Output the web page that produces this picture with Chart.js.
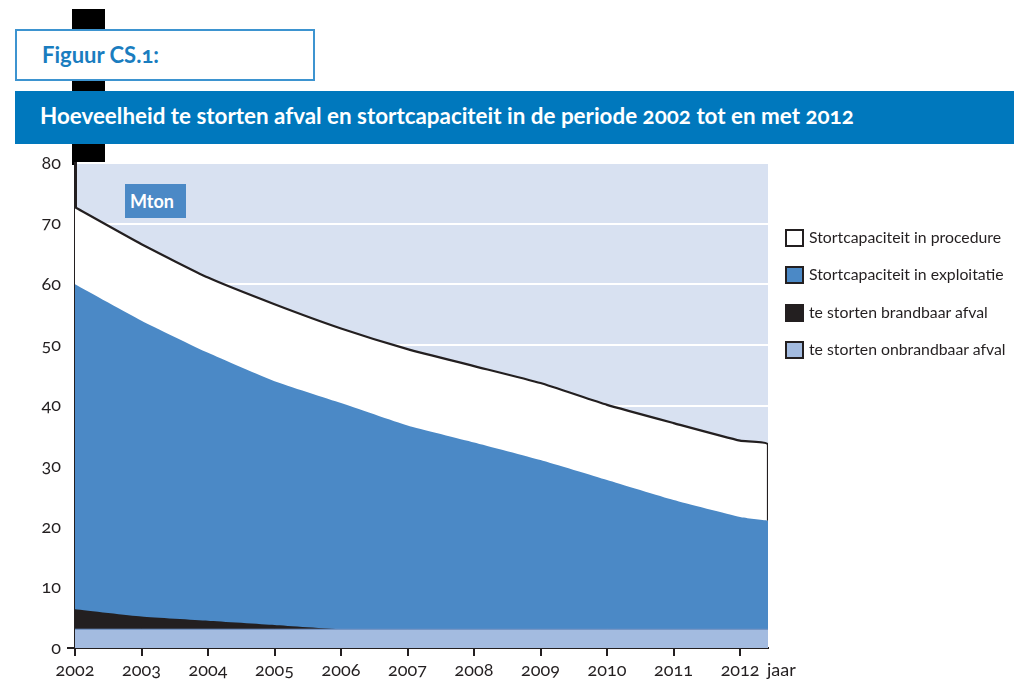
<!DOCTYPE html>
<html>
<head>
<meta charset="utf-8">
<script src="https://cdn.jsdelivr.net/npm/chart.js@4.4.1/dist/chart.umd.min.js"></script>
<style>
  html, body { margin: 0; padding: 0; background: #ffffff; }
  body { width: 1014px; height: 683px; position: relative; overflow: hidden; font-family: Lato, "Open Sans", sans-serif; font-variant-numeric: oldstyle-nums; }
  #deco { position: absolute; left: 72px; top: 9px; width: 33px; height: 156px; background: #000; z-index: 0; }
  #figbox { position: absolute; left: 15px; top: 29px; width: 296px; height: 48px; border: 2px solid #3d94d0; background: #fff; z-index: 2; }
  #figbox span { position: absolute; left: 25px; top: 10px; font-weight: 700; font-size: 22px; color: #1a7dbf; }
  #titlebar { position: absolute; left: 15px; top: 91px; width: 999px; height: 53px; background: #0078bd; z-index: 2; }
  #titlebar span { position: absolute; left: 25px; top: 11px; font-weight: 700; font-size: 22.4px; color: #fff; white-space: nowrap; }
  #chartwrap { position: absolute; left: 0; top: 0; width: 1014px; height: 683px; z-index: 1; }
  #mton { position: absolute; left: 125px; top: 184px; width: 61px; height: 34px; background: #4b89c6; z-index: 3; color: #fff; font-weight: 700; font-size: 18px; line-height: 34px; text-indent: 5px; }
  #legend { position: absolute; left: 785px; top: 229px; z-index: 3; }
  .li { position: absolute; left: 0; height: 18px; white-space: nowrap; }
  .sw { position: absolute; left: 0; top: 0; width: 15px; height: 14px; border: 2px solid #231f20; }
  .lt { position: absolute; left: 24px; top: -2px; font-size: 15.8px; color: #231f20; }
</style>
</head>
<body>
<div id="deco"></div>
<div id="figbox"><span>Figuur CS.1:</span></div>
<div id="titlebar"><span>Hoeveelheid te storten afval en stortcapaciteit in de periode 2002 tot en met 2012</span></div>
<div id="chartwrap"><canvas id="c" width="1014" height="683"></canvas></div>
<div id="mton">Mton</div>
<div id="legend"></div>
<script>
// ---- data (Mton, cumulative top of each band) ----
const years = [2002, 2003, 2004, 2005, 2006, 2007, 2008, 2009, 2010, 2011, 2012];
const periodEnd = 2012.42;                       // the areas run on a little past 2012
const xPoints = years.concat([periodEnd]);
const xTickLabels = [2002, 2003, 2004, 2005, 2006, 2007, 2008, 2009, 2010, 2011, 2012];
const yTickValues = [0, 10, 20, 30, 40, 50, 60, 70, 80];

const procedureTop   = [72.7, 66.6, 61.1, 56.7, 52.7, 49.3, 46.5, 43.7, 40.1, 37.1, 34.2, 33.6];
const exploitatieTop = [60.0, 54.0, 48.7, 44.0, 40.4, 36.7, 33.9, 31.0, 27.7, 24.4, 21.6, 21.0];
const brandbaarTop   = [6.4, 5.2, 4.5, 3.8, 3.1, 3.1, 3.1, 3.1, 3.1, 3.1, 3.1, 3.1];
const onbrandbaarTop = [3.1, 3.1, 3.1, 3.1, 3.1, 3.1, 3.1, 3.1, 3.1, 3.1, 3.1, 3.1];

const seriesNames = ['Stortcapaciteit in procedure', 'Stortcapaciteit in exploitatie', 'te storten brandbaar afval', 'te storten onbrandbaar afval'];
const seriesColors = ['#ffffff', '#4b89c6', '#231f20', '#a3bbe0'];

const INK = '#231f20';
const FONT = 'Lato, "Open Sans", sans-serif';

function pts(vals) { return vals.map((v, i) => ({ x: xPoints[i], y: v })); }
// procedure band: closed at the right edge down to the exploitatie band
const procPts = pts(procedureTop).concat([{ x: periodEnd, y: exploitatieTop[exploitatieTop.length - 1] }]);

// legend (HTML)
const leg = document.getElementById('legend');
seriesNames.forEach((n, i) => {
  const d = document.createElement('div');
  d.className = 'li';
  d.style.top = (i * 37.4) + 'px';
  d.innerHTML = '<div class="sw" style="background:' + seriesColors[i] + '"></div><div class="lt">' + n + '</div>';
  leg.appendChild(d);
});

const bgPlugin = {
  id: 'bg',
  beforeDraw(chart) {
    const { ctx, chartArea: a } = chart;
    ctx.save();
    ctx.fillStyle = '#d8e1f1';
    ctx.fillRect(a.left, a.top, a.right - a.left, a.bottom - a.top);
    ctx.restore();
  },
  afterDraw(chart) {
    const { ctx, chartArea: a } = chart;
    ctx.save();
    ctx.fillStyle = INK;
    ctx.font = '18px ' + FONT;
    ctx.textAlign = 'left';
    ctx.textBaseline = 'middle';
    ctx.fillText('jaar', a.right - 1, a.bottom + 22);
    ctx.restore();
  }
};

new Chart(document.getElementById('c'), {
  type: 'line',
  data: {
    datasets: [
      { label: seriesNames[3], data: pts(onbrandbaarTop), backgroundColor: seriesColors[3], borderColor: '#6f94c8', borderWidth: 1, fill: 'origin', pointRadius: 0, tension: 0 },
      { label: seriesNames[2], data: pts(brandbaarTop), backgroundColor: seriesColors[2], borderColor: seriesColors[2], borderWidth: 0, fill: 'origin', pointRadius: 0, tension: 0.15 },
      { label: seriesNames[1], data: pts(exploitatieTop), backgroundColor: seriesColors[1], borderColor: seriesColors[1], borderWidth: 0, fill: 'origin', pointRadius: 0, tension: 0.15 },
      { label: seriesNames[0], data: procPts, backgroundColor: seriesColors[0], borderColor: INK, borderWidth: 2.2, fill: 'origin', pointRadius: 0, tension: 0.15 }
    ]
  },
  options: {
    responsive: false,
    devicePixelRatio: 1,
    animation: false,
    layout: { padding: { top: 163, right: 246, left: 0, bottom: 0 } },
    plugins: { legend: { display: false }, tooltip: { enabled: false } },
    scales: {
      x: {
        type: 'linear',
        min: 2002,
        max: periodEnd,
        afterBuildTicks: s => { s.ticks = xTickLabels.map(v => ({ value: v })); },
        afterFit: s => { s.height = 35; },
        grid: { drawOnChartArea: false, drawTicks: true, tickLength: 8, color: INK, lineWidth: 2 },
        border: { display: true, color: INK, width: 2 },
        ticks: { color: INK, font: { family: FONT, size: 18 }, padding: 3, maxRotation: 0, autoSkip: false, callback: v => String(v) }
      },
      y: {
        min: 0,
        max: 80,
        afterBuildTicks: s => { s.ticks = yTickValues.map(v => ({ value: v })); },
        afterFit: s => { s.width = 75; },
        grid: { color: '#ffffff', lineWidth: 2, drawTicks: true, tickLength: 8, tickColor: c => (c.tick && c.tick.value === 0 ? INK : 'rgba(0,0,0,0)'), tickWidth: 2 },
        border: { display: true, color: INK, width: 3 },
        ticks: { color: INK, font: { family: FONT, size: 18 }, padding: 6 }
      }
    }
  },
  plugins: [bgPlugin]
});
</script>
</body>
</html>
